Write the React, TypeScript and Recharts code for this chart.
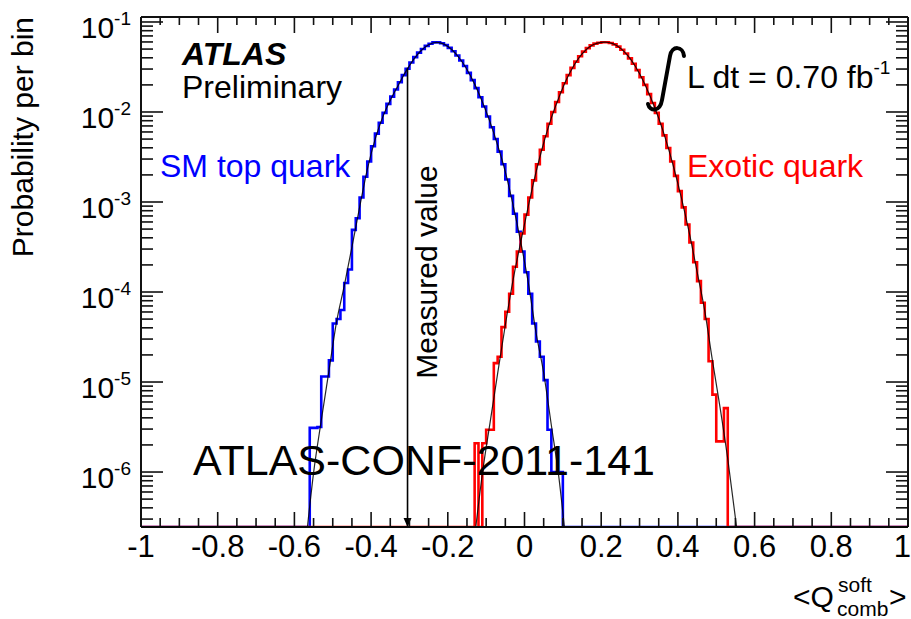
import React from "react";
import { LineChart, Line, XAxis, YAxis, ReferenceLine, ReferenceDot } from "recharts";

const FONT = '"Liberation Sans", Arial, Helvetica, sans-serif';
const FRAME = "#111";

// axis ranges
const Y_MIN = 2.45e-7;
const Y_MAX = 0.1136;
const FLOOR = Y_MIN; // empty bins sit on the bottom edge
const xMajor = [-1, -0.8, -0.6, -0.4, -0.2, 0, 0.2, 0.4, 0.6, 0.8, 1];
const yDecades = [1e-7, 1e-6, 1e-5, 1e-4, 1e-3, 1e-2, 1e-1];
const yMinorSteps = [2, 3, 4, 5, 6, 7, 8, 9];

// histograms: probability per 0.01 bin, starting at the first edge
const BIN = 0.01;
const smFirst = -0.56;
const smProb = [
  3.09e-6, 3.09e-6, 3.16e-6, 1.15e-5, 1.15e-5, 1.74e-5, 4.47e-5, 5.01e-5, 6.31e-5, 1.26e-4,
  1.78e-4, 4.9e-4, 6.61e-4, 1.12e-3, 1.91e-3, 2.82e-3, 4.17e-3, 5.75e-3, 7.59e-3, 9.77e-3,
  0.0123, 0.0148, 0.0178, 0.0214, 0.0257, 0.0302, 0.0355, 0.0407, 0.0457, 0.0501,
  0.0543, 0.0573, 0.0593, 0.0596, 0.0581, 0.0553, 0.0516, 0.0473, 0.0425, 0.0373,
  0.0324, 0.0272, 0.0226, 0.0184, 0.0146, 0.0115, 8.91e-3, 6.76e-3, 5.01e-3, 3.63e-3,
  2.63e-3, 1.78e-3, 1.17e-3, 7.41e-4, 4.68e-4, 2.82e-4, 1.66e-4, 9.55e-5, 4.47e-5, 2.82e-5,
  1.91e-5, 1.05e-5, 2.95e-6, 1.0e-6, 1.0e-6, 1.0e-6,
];
const exFirst = -0.13;
const exProb = [
  2.09e-6, 0, 2.09e-6, 2.95e-6, 2.95e-6, 1.62e-5, 1.91e-5, 4.07e-5, 6.03e-5, 9.55e-5,
  1.91e-4, 2.82e-4, 4.47e-4, 7.24e-4, 1.12e-3, 1.74e-3, 2.63e-3, 3.8e-3, 5.37e-3, 7.41e-3,
  0.01, 0.0129, 0.0166, 0.0209, 0.0257, 0.0309, 0.0363, 0.0417, 0.0468, 0.0513,
  0.055, 0.0575, 0.0589, 0.0596, 0.0596, 0.0585, 0.0564, 0.0532, 0.0492, 0.0446,
  0.0394, 0.0343, 0.0292, 0.0243, 0.02, 0.0158, 0.0126, 9.77e-3, 7.41e-3, 5.5e-3,
  3.98e-3, 2.82e-3, 1.95e-3, 1.32e-3, 8.71e-4, 5.62e-4, 3.55e-4, 2.14e-4, 1.32e-4, 7.59e-5,
  5.01e-5, 1.7e-5, 7.24e-6, 2.19e-6, 2.19e-6, 5.13e-6,
];

// fitted curves (black)
const smFitX = [
  -0.566, -0.55, -0.53, -0.51, -0.49, -0.47, -0.45, -0.43, -0.41, -0.39, -0.37, -0.35,
  -0.33, -0.31, -0.29, -0.27, -0.25, -0.23, -0.21, -0.19, -0.17, -0.15, -0.13, -0.11,
  -0.09, -0.07, -0.05, -0.03, -0.01, 0.01, 0.03, 0.05, 0.07, 0.09, 0.104,
];
const smFitY = [
  0, 9.8e-7, 3.72e-6, 1.32e-5, 4.68e-5, 1.17e-4, 3.16e-4, 8.71e-4, 2.29e-3, 4.9e-3, 8.71e-3,
  0.0135, 0.0195, 0.0279, 0.038, 0.0479, 0.0558, 0.0594, 0.0568, 0.0494, 0.0398, 0.0297,
  0.0204, 0.013, 7.76e-3, 4.27e-3, 2.16e-3, 9.33e-4, 3.63e-4, 1.26e-4, 3.55e-5, 1.26e-5,
  3.31e-6, 8.5e-7, 0,
];
const exFitX = [
  -0.127, -0.11, -0.09, -0.07, -0.05, -0.03, -0.01, 0.01, 0.03, 0.05, 0.07, 0.09, 0.11,
  0.13, 0.15, 0.17, 0.19, 0.21, 0.23, 0.25, 0.27, 0.29, 0.31, 0.33, 0.35, 0.37, 0.39,
  0.41, 0.43, 0.45, 0.47, 0.49, 0.51, 0.53, 0.553,
];
const exFitY = [
  0, 9.5e-7, 3.5e-6, 1.25e-5, 4.3e-5, 1.35e-4, 3.55e-4, 9.0e-4, 2.14e-3, 4.52e-3, 8.61e-3,
  0.0146, 0.0232, 0.0335, 0.0442, 0.0531, 0.0582, 0.0596, 0.0574, 0.0512, 0.0419, 0.0316,
  0.022, 0.0141, 8.51e-3, 4.68e-3, 2.34e-3, 1.07e-3, 4.47e-4, 1.68e-4, 6.17e-5, 1.74e-5,
  5.2e-6, 1.4e-6, 0,
];

// measured value arrow
const measuredX = -0.305;
const measuredTop = 0.031;

const r2 = (v: number) => Math.round(v * 100) / 100;

function histPoints(first: number, vals: number[]) {
  const pts = [{ x: -1, y: FLOOR }];
  vals.forEach((v, i) => pts.push({ x: r2(first + i * BIN), y: v > 0 ? v : FLOOR }));
  pts.push({ x: r2(first + vals.length * BIN), y: FLOOR });
  pts.push({ x: 1, y: FLOOR });
  return pts;
}
const fitPoints = (xs: number[], ys: number[]) =>
  xs.map((x, i) => ({ x, y: ys[i] > 0 ? ys[i] : FLOOR }));

const smData = histPoints(smFirst, smProb);
const exData = histPoints(exFirst, exProb);
const smFit = fitPoints(smFitX, smFitY);
const exFit = fitPoints(exFitX, exFitY);

const xTicks: number[] = [];
xMajor.forEach((m, i) => {
  xTicks.push(m);
  if (i < xMajor.length - 1) [0.05, 0.1, 0.15].forEach((d) => xTicks.push(r2(m + d)));
});
const isXMajor = (v: number) => xMajor.some((m) => Math.abs(m - v) < 1e-6);

const yTicks: number[] = [];
yDecades.forEach((d) => {
  if (d >= Y_MIN && d <= Y_MAX) yTicks.push(d);
  yMinorSteps.forEach((k) => {
    const v = k * d;
    if (v >= Y_MIN && v <= Y_MAX) yTicks.push(v);
  });
});
const isDecade = (v: number) => Math.abs(Math.log10(v) - Math.round(Math.log10(v))) < 1e-6;

function LeftTick(props: any) {
  const { x, y, payload } = props;
  const major = isDecade(payload.value);
  return (
    <g>
      <line x1={x} y1={y} x2={x + (major ? 22 : 12)} y2={y} stroke={FRAME} strokeWidth={1.6} />
      {major && (
        <text x={x - 10} y={y + 16} textAnchor="end" fontFamily={FONT} fontSize={30} fill="#000">
          10
          <tspan dy={-13} fontSize={19}>
            {Math.round(Math.log10(payload.value))}
          </tspan>
        </text>
      )}
    </g>
  );
}

function RightTick(props: any) {
  const { x, y, payload } = props;
  const major = isDecade(payload.value);
  return <line x1={x} y1={y} x2={x - (major ? 22 : 12)} y2={y} stroke={FRAME} strokeWidth={1.6} />;
}

function BottomTick(props: any) {
  const { x, y, payload } = props;
  const major = isXMajor(payload.value);
  const last = payload.value >= 1;
  return (
    <g>
      <line x1={x} y1={y} x2={x} y2={y - (major ? 15 : 9)} stroke={FRAME} strokeWidth={1.6} />
      {major && (
        <text
          x={last ? x + 3 : x}
          y={y + 30}
          textAnchor={last ? "end" : "middle"}
          fontFamily={FONT}
          fontSize={31}
          fill="#000"
        >
          {String(Math.round(payload.value * 10) / 10)}
        </text>
      )}
    </g>
  );
}

function TopTick(props: any) {
  const { x, y, payload } = props;
  const major = isXMajor(payload.value);
  return <line x1={x} y1={y} x2={x} y2={y + (major ? 16 : 8)} stroke={FRAME} strokeWidth={1.6} />;
}

function ArrowHead(props: any) {
  const { cx, cy } = props;
  return <path d={`M${cx - 4},${cy - 9} L${cx + 4},${cy - 9} L${cx},${cy} Z`} fill="#000" />;
}

const axisLine = { stroke: FRAME, strokeWidth: 2 };

export default function App() {
  return (
    <div style={{ position: "absolute", left: 0, top: 0, width: 911, height: 619, background: "#fff" }}>
      <LineChart width={911} height={619} margin={{ top: 0, right: 0, bottom: 0, left: 0 }}>
        <XAxis
          xAxisId="b"
          type="number"
          dataKey="x"
          domain={[-1, 1]}
          ticks={xTicks}
          interval={0}
          allowDataOverflow
          orientation="bottom"
          height={92}
          tickSize={0}
          tickMargin={0}
          tickLine={false}
          axisLine={axisLine}
          tick={<BottomTick />}
        />
        <XAxis
          xAxisId="t"
          type="number"
          dataKey="x"
          domain={[-1, 1]}
          ticks={xTicks}
          interval={0}
          allowDataOverflow
          orientation="top"
          height={17}
          tickSize={0}
          tickMargin={0}
          tickLine={false}
          axisLine={axisLine}
          tick={<TopTick />}
        />
        <YAxis
          yAxisId="l"
          type="number"
          scale="log"
          domain={[Y_MIN, Y_MAX]}
          ticks={yTicks}
          interval={0}
          allowDataOverflow
          width={141}
          tickSize={0}
          tickMargin={0}
          tickLine={false}
          axisLine={axisLine}
          tick={<LeftTick />}
        />
        <YAxis
          yAxisId="r"
          type="number"
          scale="log"
          domain={[Y_MIN, Y_MAX]}
          ticks={yTicks}
          interval={0}
          allowDataOverflow
          orientation="right"
          width={3}
          tickSize={0}
          tickMargin={0}
          tickLine={false}
          axisLine={axisLine}
          tick={<RightTick />}
        />
        <Line
          xAxisId="b"
          yAxisId="l"
          data={smData}
          dataKey="y"
          type="stepAfter"
          stroke="#0000ff"
          strokeWidth={2.6}
          dot={false}
          isAnimationActive={false}
        />
        <Line
          xAxisId="b"
          yAxisId="l"
          data={exData}
          dataKey="y"
          type="stepAfter"
          stroke="#ff0000"
          strokeWidth={2.6}
          dot={false}
          isAnimationActive={false}
        />
        <Line
          xAxisId="b"
          yAxisId="l"
          data={smFit}
          dataKey="y"
          type="monotone"
          stroke="#000"
          strokeOpacity={0.85}
          strokeWidth={1.2}
          dot={false}
          isAnimationActive={false}
        />
        <Line
          xAxisId="b"
          yAxisId="l"
          data={exFit}
          dataKey="y"
          type="monotone"
          stroke="#000"
          strokeOpacity={0.85}
          strokeWidth={1.2}
          dot={false}
          isAnimationActive={false}
        />
        <ReferenceLine
          xAxisId="b"
          yAxisId="l"
          segment={[
            { x: measuredX, y: FLOOR },
            { x: measuredX, y: measuredTop },
          ]}
          stroke="#000"
          strokeWidth={1.6}
        />
        <ReferenceDot
          xAxisId="b"
          yAxisId="l"
          x={measuredX}
          y={FLOOR}
          r={4}
          shape={<ArrowHead />}
        />
      </LineChart>
      <svg
        width={911}
        height={619}
        style={{ position: "absolute", left: 0, top: 0, pointerEvents: "none" }}
        fontFamily={FONT}
      >
        <line x1={141} y1={527} x2={908} y2={527} stroke="#000" strokeOpacity={0.5} strokeWidth={2} />
        <text x={33} y={17} transform="rotate(-90 33 17)" textAnchor="end" fontSize={30} fill="#000">
          Probability per bin
        </text>
        <text x={182} y={65} fontSize={32} fontWeight="bold" fontStyle="italic" fill="#000">
          ATLAS
        </text>
        <text x={182} y={98} fontSize={32} fill="#000">
          Preliminary
        </text>
        <text x={160} y={177} fontSize={32} fill="#0000ff">
          SM top quark
        </text>
        <text x={687} y={177} fontSize={32} fill="#ff0000">
          Exotic quark
        </text>
        <path
          d="M684,56 C683,46 672,45 670,56 L662,100 C660,112 650,112 648,104"
          fill="none"
          stroke="#000"
          strokeWidth={4}
          strokeLinecap="round"
        />
        <text x={687} y={88} fontSize={32} fill="#000">
          L dt = 0.70 fb
          <tspan dy={-14} fontSize={19}>
            -1
          </tspan>
        </text>
        <text x={437} y={272} transform="rotate(-90 437 272)" textAnchor="middle" fontSize={30} fill="#000">
          Measured value
        </text>
        <text x={193} y={475} fontSize={43} fill="#000">
          ATLAS-CONF-2011-141
        </text>
        <text x={793} y={607} fontSize={30} fill="#000">
          &lt;Q
        </text>
        <text x={838} y={592} fontSize={21} fill="#000">
          soft
        </text>
        <text x={837} y={616} fontSize={21} fill="#000">
          comb
        </text>
        <text x={889} y={607} fontSize={30} fill="#000">
          &gt;
        </text>
      </svg>
    </div>
  );
}
